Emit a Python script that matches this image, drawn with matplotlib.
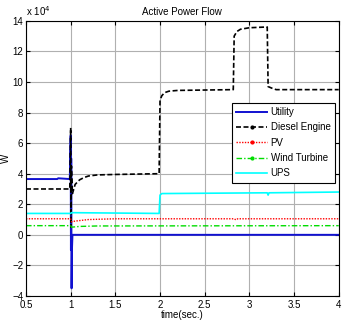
import matplotlib
matplotlib.use('Agg')
import matplotlib.pyplot as plt
from matplotlib.lines import Line2D
from matplotlib.ticker import FormatStrFormatter

plt.rcParams['font.family'] = ['Liberation Sans', 'DejaVu Sans']
plt.rcParams['font.size'] = 7

# values in units of 1e4 W
t_utility = [0.5, 0.85, 0.86, 0.99, 1.0, 1.003, 1.006, 1.01, 1.014, 1.02, 4.0]
p_utility = [3.65, 3.65, 3.7, 3.65, 6.5, -1.0, 5.0, -3.5, -1.0, 0.0, 0.0]

t_diesel = [0.5, 0.99, 1.0, 1.004, 1.008, 1.02, 1.05, 1.1, 1.15, 1.2, 1.3, 1.5,
            1.99, 2.0, 2.02, 2.05, 2.1, 2.2, 2.82, 2.83, 2.86, 2.9, 3.0, 3.2,
            3.21, 3.25, 3.3, 4.0]
p_diesel = [3.0, 3.0, 7.0, 0.5, 4.5, 2.7, 3.3, 3.6, 3.75, 3.85, 3.92, 3.95,
            4.0, 8.8, 9.1, 9.3, 9.4, 9.45, 9.5, 13.0, 13.3, 13.45, 13.55, 13.6,
            9.7, 9.6, 9.5, 9.5]

t_pv = [0.5, 1.0, 1.01, 1.05, 1.2, 1.5, 2.83, 2.85, 2.87, 4.0]
p_pv = [1.05, 1.05, 0.85, 0.9, 1.0, 1.05, 1.05, 0.98, 1.05, 1.05]

t_wind = [0.5, 1.0, 1.01, 1.1, 1.3, 4.0]
p_wind = [0.6, 0.6, 0.5, 0.55, 0.58, 0.6]

t_ups = [0.5, 1.0, 1.01, 1.99, 2.0, 2.02, 3.2, 3.21, 3.22, 4.0]
p_ups = [1.4, 1.4, 1.45, 1.4, 2.6, 2.7, 2.75, 2.6, 2.75, 2.8]

names = ['Utility', 'Diesel Engine', 'PV', 'Wind Turbine', 'UPS']

fig = plt.figure(figsize=(3.44, 3.21), dpi=100)
ax = fig.add_axes([0.0756, 0.078, 0.909, 0.857])

ax.plot(t_utility, p_utility, color='#1010d0', lw=1.4)
ax.plot(t_diesel, p_diesel, color='black', lw=1.2, ls=(0, (3, 1.5)))
ax.plot(t_pv, p_pv, color='red', lw=1.0, ls=(0, (1, 1)))
ax.plot(t_wind, p_wind, color='#00dd00', lw=1.0, ls=(0, (4, 1.5, 1, 1.5)))
ax.plot(t_ups, p_ups, color='cyan', lw=1.2)

ax.set_xlim(0.5, 4)
ax.set_ylim(-4, 14)
ax.set_xticks([0.5, 1, 1.5, 2, 2.5, 3, 3.5, 4])
ax.set_yticks(range(-4, 15, 2))
ax.xaxis.set_major_formatter(FormatStrFormatter('%g'))
ax.grid(True, color='#b0b0b0', lw=0.8)
ax.tick_params(direction='in', length=3, top=True, right=True, pad=2)
ax.tick_params(axis='x', pad=3)
for s in ax.spines.values():
    s.set_linewidth(0.8)

handles = [
    Line2D([], [], color='#1010d0', lw=1.4),
    Line2D([], [], color='black', lw=1.2, ls=(0, (3, 1.5)), marker='.', ms=4),
    Line2D([], [], color='red', lw=1.0, ls=(0, (1, 1)), marker='.', ms=4),
    Line2D([], [], color='#00dd00', lw=1.0, ls=(0, (4, 1.5, 1, 1.5)), marker='.', ms=4),
    Line2D([], [], color='cyan', lw=1.2),
]
leg = ax.legend(handles, names, loc='upper left', bbox_to_anchor=(0.658, 0.703),
                fancybox=False, framealpha=1, edgecolor='black',
                handlelength=3.2, borderpad=0.45, labelspacing=0.55,
                handletextpad=0.35, borderaxespad=0, fontsize=7)
leg.get_frame().set_linewidth(0.8)

ax.set_title('Active Power Flow', fontsize=7, pad=4)
ax.text(0.0, 1.012, 'x 10$^4$', transform=ax.transAxes, fontsize=7,
        ha='left', va='bottom')
ax.set_ylabel('W', labelpad=1)
ax.set_xlabel('time(sec.)', labelpad=0)

fig.savefig('out.png', dpi=100)
